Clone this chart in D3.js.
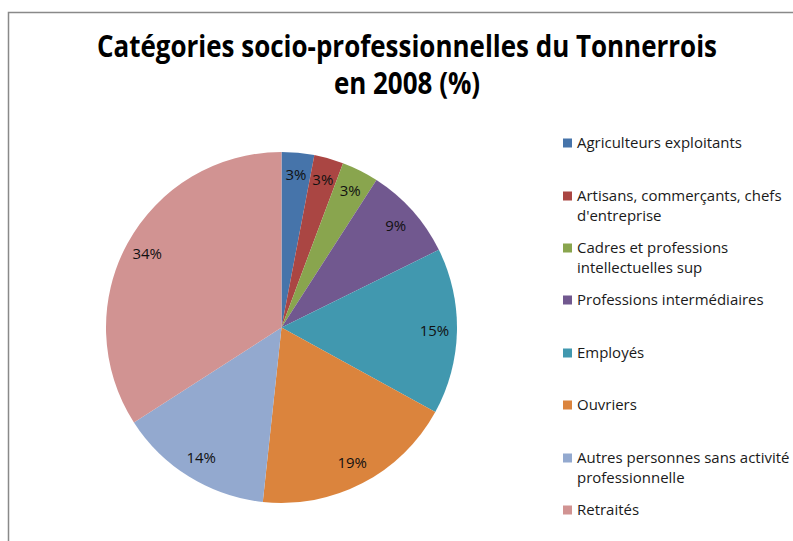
<!DOCTYPE html>
<html>
<head>
<meta charset="utf-8">
<script src="https://cdn.jsdelivr.net/npm/d3@7"></script>
<style>
  body { margin: 0; background: #fff; }
  text { font-family: "Open Sans", "DejaVu Sans", sans-serif; }
</style>
</head>
<body>
<div id="chart"></div>
<script>
// data (percent)
var categories = ["Agriculteurs exploitants", "Artisans, commerçants, chefs d'entreprise",
    "Cadres et professions intellectuelles sup", "Professions intermédiaires",
    "Employés", "Ouvriers", "Autres personnes sans activité professionnelle", "Retraités"];
var values = [3.0, 2.7, 3.4, 8.6, 15.3, 18.7, 14.2, 34.1];
// legend lines (wrapped as in the picture)
var legendLines = [["Agriculteurs exploitants"], ["Artisans, commerçants, chefs", "d'entreprise"],
    ["Cadres et professions", "intellectuelles sup"], ["Professions intermédiaires"],
    ["Employés"], ["Ouvriers"], ["Autres personnes sans activité", "professionnelle"], ["Retraités"]];
var colors = ["#4674AA", "#AA4643", "#89A54E", "#71588F", "#4198AF", "#DB843D", "#93A9CF", "#D19392"];

var W = 793, H = 541;
var svg = d3.select("#chart").append("svg")
    .attr("width", W).attr("height", H);

// chart frame (runs off the right and bottom edges)
svg.append("rect")
    .attr("x", 8.5).attr("y", 12.5)
    .attr("width", 900).attr("height", 600)
    .attr("fill", "#fff")
    .attr("stroke", "#898989")
    .attr("stroke-width", 1.5);

// fits a text element to a target width keeping its height
function fit(sel, w) {
    sel.attr("textLength", w).attr("lengthAdjust", "spacingAndGlyphs");
}

// title
var t1 = svg.append("text").attr("x", 407).attr("y", 57)
    .attr("text-anchor", "middle").attr("font-weight", "bold").attr("font-size", 30)
    .text("Catégories socio-professionnelles du Tonnerrois");
var t2 = svg.append("text").attr("x", 407).attr("y", 94)
    .attr("text-anchor", "middle").attr("font-weight", "bold").attr("font-size", 30)
    .text("en 2008 (%)");
var k = 620 / t1.node().getComputedTextLength();
fit(t1, 620);
fit(t2, t2.node().getComputedTextLength() * k);

// pie
var cx = 281.5, cy = 327.5, r = 175.5;
var pie = d3.pie().sort(null).value(function (d) { return d; });
var arc = d3.arc().innerRadius(0).outerRadius(r);
var labelArc = d3.arc().innerRadius(153).outerRadius(153);
var arcs = pie(values);

var g = svg.append("g").attr("transform", "translate(" + cx + "," + cy + ")");
g.selectAll("path")
    .data(arcs)
    .enter()
    .append("path")
    .attr("d", arc)
    .attr("fill", function (d, i) { return colors[i]; });

var probe = g.append("text").attr("font-size", 15).text("19%");
var kl = 29.5 / probe.node().getComputedTextLength();
probe.remove();

g.selectAll("text.lbl")
    .data(arcs)
    .enter()
    .append("text")
    .attr("class", "lbl")
    .attr("transform", function (d) { return "translate(" + labelArc.centroid(d) + ")"; })
    .attr("text-anchor", "middle")
    .attr("dy", "0.35em")
    .attr("font-size", 15)
    .attr("fill", "#111")
    .text(function (d) { return Math.round(d.data) + "%"; })
    .each(function () {
        var s = d3.select(this);
        fit(s, s.node().getComputedTextLength() * kl);
    });

// legend
var legendY = [143, 196, 248, 300, 353, 405, 458, 510];
var lg = svg.append("g");
var probe2 = lg.append("text").attr("font-size", 14.5).text("Agriculteurs exploitants");
var kg = 165 / probe2.node().getComputedTextLength();
probe2.remove();

legendLines.forEach(function (lines, i) {
    lg.append("rect")
        .attr("x", 563).attr("y", legendY[i] - 4.5)
        .attr("width", 9).attr("height", 9)
        .attr("fill", colors[i]);
    lines.forEach(function (line, j) {
        var t = lg.append("text")
            .attr("x", 577).attr("y", legendY[i] + j * 20)
            .attr("dy", "0.35em")
            .attr("font-size", 14.5)
            .attr("fill", "#1a1a1a")
            .text(line);
        fit(t, t.node().getComputedTextLength() * kg);
    });
});
</script>
</body>
</html>
